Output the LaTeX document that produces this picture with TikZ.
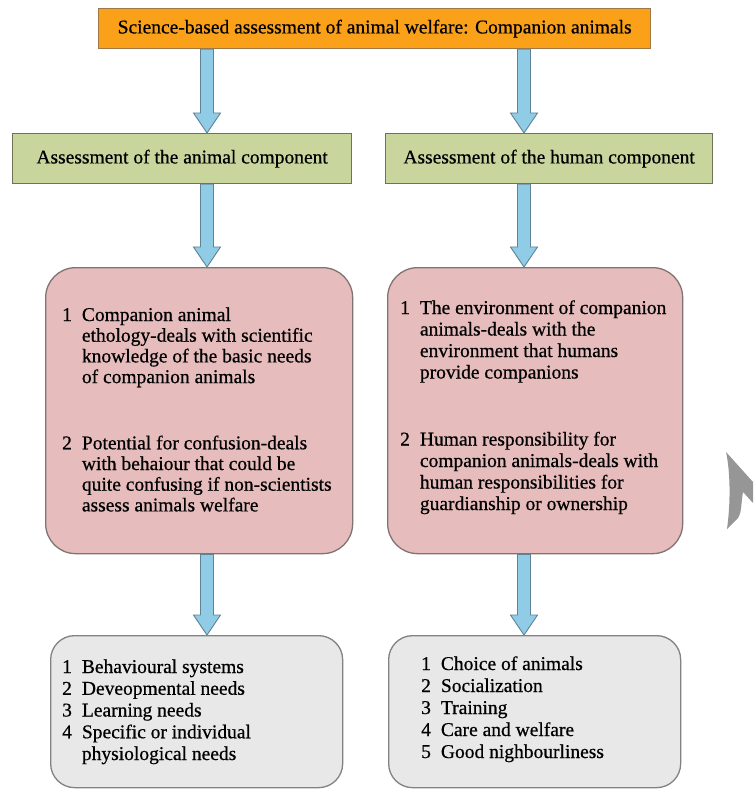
\documentclass[tikz,border=0pt]{standalone}
\usepackage{fontspec}
\setmainfont[FakeBold=0.6]{Liberation Serif}
\usetikzlibrary{calc}
\definecolor{orangefill}{RGB}{250,160,25}
\definecolor{orangeline}{RGB}{160,120,70}
\definecolor{greenfill}{RGB}{200,214,158}
\definecolor{greenline}{RGB}{110,115,85}
\definecolor{pinkfill}{RGB}{230,188,188}
\definecolor{pinkline}{RGB}{130,115,115}
\definecolor{greyfill}{RGB}{232,232,232}
\definecolor{greyline}{RGB}{130,130,130}
\definecolor{arrowfill}{RGB}{145,204,230}
\definecolor{arrowline}{RGB}{95,130,150}
\definecolor{markgrey}{RGB}{150,150,150}
\tikzset{
  boxbase/.style={anchor=north west, inner sep=0pt, line width=1.3pt, font=\fontsize{19.5}{21}\selectfont},
  titlebox/.style={boxbase, fill=orangefill, draw=orangeline},
  greenbox/.style={boxbase, fill=greenfill, draw=greenline},
  pinkbox/.style={boxbase, fill=pinkfill, draw=pinkline, rounded corners=30pt},
  greybox/.style={boxbase, fill=greyfill, draw=greyline, rounded corners=24pt},
  listtext/.style={anchor=base west, inner sep=0pt},
  arrowstyle/.style={fill=arrowfill, draw=arrowline, line width=0.9pt, line join=miter}
}
\newcommand\blockarr[2]{%
  \path[arrowstyle] let \p1=#1, \p2=#2 in
    (\x1-6.5pt,\y1) -- (\x1-6.5pt,\y2+20pt) -- (\x1-13.5pt,\y2+20pt) -- (\x1,\y2)
    -- (\x1+13.5pt,\y2+20pt) -- (\x1+6.5pt,\y2+20pt) -- (\x1+6.5pt,\y1) -- cycle;}
\newcommand\listfont[1]{\fontsize{19.5}{#1}\selectfont}
\begin{document}
\begin{tikzpicture}[x=1pt,y=-1pt]
\useasboundingbox (0,0) rectangle (753,791);
\fill[white] (0,0) rectangle (753,791);

\coordinate (lx) at (207,0);
\coordinate (rx) at (524,0);

% boxes
\node[titlebox, minimum width=552pt, minimum height=40pt] (title) at (98,8)
  {Science-based assessment of animal welfare: Companion animals};
\node[greenbox, minimum width=339pt, minimum height=50pt] (ga) at (12,133)
  {Assessment of the animal component};
\node[greenbox, minimum width=327pt, minimum height=50pt] (gh) at (385,133)
  {Assessment of the human component};
\node[pinkbox, minimum width=307pt, minimum height=286pt] (pa) at (45,267) {};
\node[pinkbox, minimum width=295pt, minimum height=286pt] (ph) at (387,267) {};
\node[greybox, minimum width=292pt, minimum height=152pt] (la) at (50,635) {};
\node[greybox, minimum width=292pt, minimum height=152pt] (lh) at (388,635) {};

% texts
\node[listtext] (pat) at (62,321) {\listfont{20.7}%
\begin{tabular}[t]{@{}l@{\hspace{10pt}}l@{}}
1 & Companion animal\\
  & ethology-deals with scientific\\
  & knowledge of the basic needs\\
  & of companion animals\\[45.5pt]
2 & Potential for confusion-deals\\
  & with behaiour that could be\\
  & quite confusing if non-scientists\\
  & assess animals welfare
\end{tabular}};
\node[listtext] (pht) at (400,314) {\listfont{21.5}%
\begin{tabular}[t]{@{}l@{\hspace{10pt}}l@{}}
1 & The environment of companion\\
  & animals-deals with the\\
  & environment that humans\\
  & provide companions\\[45.5pt]
2 & Human responsibility for\\
  & companion animals-deals with\\
  & human responsibilities for\\
  & guardianship or ownership
\end{tabular}};
\node[listtext] (lat) at (62,673) {\listfont{21.75}%
\begin{tabular}[t]{@{}l@{\hspace{10pt}}l@{}}
1 & Behavioural systems\\
2 & Deveopmental needs\\
3 & Learning needs\\
4 & Specific or individual\\
  & physiological needs
\end{tabular}};
\node[listtext] (lht) at (421,670) {\listfont{22}%
\begin{tabular}[t]{@{}l@{\hspace{10pt}}l@{}}
1 & Choice of animals\\
2 & Socialization\\
3 & Training\\
4 & Care and welfare\\
5 & Good nighbourliness
\end{tabular}};

% block arrows
\blockarr{(title.south -| lx)}{(ga.north -| lx)}
\blockarr{(title.south -| rx)}{(gh.north -| rx)}
\blockarr{(ga.south -| lx)}{(pa.north -| lx)}
\blockarr{(gh.south -| rx)}{(ph.north -| rx)}
\blockarr{(pa.south -| lx)}{(la.north -| lx)}
\blockarr{(ph.south -| rx)}{(lh.north -| rx)}

% grey mark at right edge
\fill[markgrey] (726,452) -- (753,482) -- (753,503) -- (743,492)
  .. controls (741,502) and (742,512) .. (738,518) -- (727,529)
  .. controls (731,500) and (730,470) .. (726,452) -- cycle;
\end{tikzpicture}
\end{document}
